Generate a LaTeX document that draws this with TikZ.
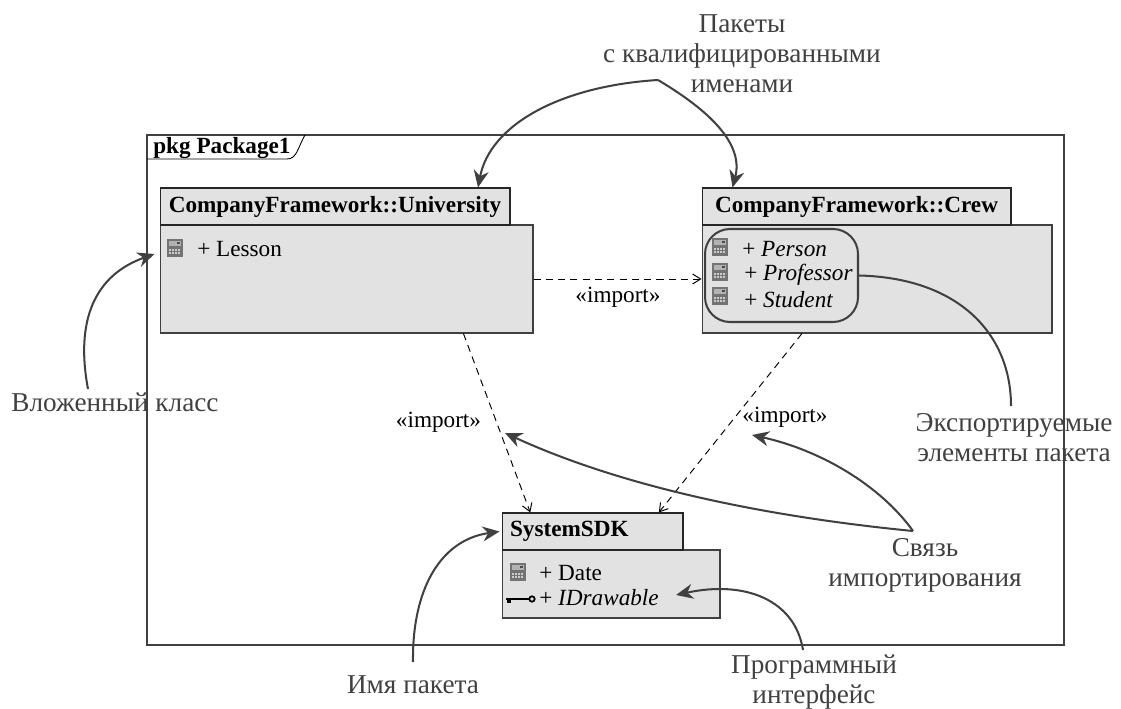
\documentclass[tikz,border=0pt]{standalone}
\usepackage{fontspec}
\setmainfont{Liberation Serif}
\usetikzlibrary{calc,positioning,arrows.meta}
\definecolor{boxfill}{HTML}{E2E2E2}
\definecolor{notecol}{HTML}{404040}
\tikzset{
    >={Straight Barb[length=1.6mm,width=2mm]},
    boxfont/.style={font=\fontsize{13.2}{15}\selectfont},
    tabbox/.style={draw=black!85,fill=boxfill,line width=.6pt,font=\fontsize{13.2}{15}\selectfont\bfseries,inner sep=0pt,align=left},
    bodybox/.style={draw=black!75,fill=boxfill,line width=.6pt,inner sep=0pt},
    importline/.style={draw=black,dashed,dash pattern=on 4pt off 3pt,line width=.55pt,->},
    importlabel/.style={boxfont,inner sep=0pt},
    noteline/.style={draw=notecol,line width=1.15pt,-{Stealth[length=3.4mm,width=3mm]}},
    noteplain/.style={draw=notecol,line width=1.15pt},
    notetext/.style={text=notecol,align=center,inner sep=0pt,font=\fontsize{15.5}{17}\selectfont},
    member/.style={boxfont,anchor=west,inner sep=0pt},
    calcicon/.pic={
        \fill[black!55] (-8,-9) rectangle (8,9);
        \fill[black!30] (-6,-7) rectangle (6,-2);
        \fill[black!70] (2,-6) rectangle (5,-4);
        \foreach \keyx in {-6,-3,0,3}
            \foreach \keyy in {1,4}
                \fill[black!20] (\keyx,\keyy) rectangle +(2,2);
    },
    keyicon/.pic={
        \draw[black,line width=1.1pt] (-13,0) -- (10,0);
        \draw[black,line width=1pt] (13,0) circle (2.7);
        \fill[black] (-12,0) rectangle (-8,4);
    }
}
\begin{document}
\begin{tikzpicture}[x=0.02cm,y=-0.02cm]
        \useasboundingbox (0,0) rectangle (1121,709);
        % package frame
        \node[draw=black!75,line width=.8pt,minimum width=18.34cm,minimum height=10.2cm,inner sep=0pt] (frame) at (605.5,390) {};
        \coordinate (frameTabA) at (305,135);
        \coordinate (frameTabB) at (147,159);
        \draw[black,line width=.5pt] (frameTabB) -- (287,159) .. controls (297,159) and (298,147) .. (frameTabA);
        \node[anchor=west,inner sep=0pt,font=\fontsize{13.2}{15}\selectfont\bfseries] (frameName) at (153,148) {pkg Package1};

        % packages
        \node[bodybox,minimum width=7.46cm,minimum height=2.16cm] (uniBody) at (346.5,279) {};
        \node[tabbox,minimum width=7cm,minimum height=.74cm] (uniTab) at (335,206.5) {CompanyFramework::University};
        \node[bodybox,minimum width=7cm,minimum height=2.16cm] (crewBody) at (877,279) {};
        \node[tabbox,minimum width=6.18cm,minimum height=.74cm] (crewTab) at (856.5,206.5) {CompanyFramework::Crew};
        \node[bodybox,minimum width=4.36cm,minimum height=1.36cm] (sdkBody) at (611,584) {};
        \node[tabbox,minimum width=3.62cm,minimum height=.74cm,text width=3.3cm] (sdkTab) at (592.5,531.5) {SystemSDK};

        % members
        \pic at (175,248.5) {calcicon};
        \node[member] (lesson) at (197,249) {+ Lesson};
        \pic at (719.5,247) {calcicon};
        \node[member] (person) at (742,249) {+ \textit{Person}};
        \pic at (719.5,272) {calcicon};
        \node[member] (professor) at (744,275) {+ \textit{Professor}};
        \pic at (719.5,296) {calcicon};
        \node[member] (student) at (744,300) {+ \textit{Student}};
        \pic at (518,572) {calcicon};
        \node[member] (date) at (539,573) {+ Date};
        \pic at (519,599) {keyicon};
        \node[member] (drawable) at (539,598) {+ \textit{IDrawable}};
        \node[draw=notecol,line width=1.15pt,rounded corners=.5cm,minimum width=3.06cm,minimum height=1.86cm,inner sep=0pt] (exported) at (781.5,275.5) {};

        % imports
        \draw[importline] (uniBody.east) -- (crewBody.west);
        \node[importlabel] (importA) at (618,297) {«import»};
        \draw[importline] (uniBody.-25.5) -- (sdkTab.163.3);
        \node[importlabel] (importB) at (438.5,422) {«import»};
        \draw[importline] (crewBody.216.1) -- (sdkTab.16);
        \node[importlabel] (importC) at (785,417) {«import»};

        % notes
        \node[notetext] (noteNames) at (742,54) {Пакеты\\с квалифицированными\\именами};
        \coordinate (forkNames) at (658,80);
        \draw[noteline] (forkNames) .. controls (560,86) and (490,125) .. ($(uniTab.north)+(143,0)$);
        \draw[noteline] (forkNames) .. controls (700,105) and (745,140) .. ($(crewTab.north west)+(31,0)$);
        \node[notetext] (noteNested) at (115,402) {Вложенный класс};
        \coordinate (startNested) at (88,389);
        \draw[noteline] (startNested) .. controls (75,320) and (95,275) .. ($(uniBody.west)+(-5,-25)$);
        \node[notetext] (noteExported) at (1014,438) {Экспортируемые\\элементы пакета};
        \coordinate (endExported) at (1011,406);
        \draw[noteplain] (exported.east) .. controls (960,278) and (1011,335) .. (endExported);
        \node[notetext] (noteImport) at (925,565) {Связь\\импортирования};
        \coordinate (forkImport) at (913,531);
        \draw[noteline] (forkImport) .. controls (800,520) and (640,495) .. (505,433);
        \draw[noteline] (forkImport) .. controls (880,485) and (820,450) .. (752,435);
        \node[notetext] (noteName) at (413,685) {Имя пакета};
        \coordinate (startName) at (413,662);
        \draw[noteline] (startName) .. controls (412,590) and (440,540) .. ($(sdkTab.west)+(-2,0)$);
        \node[notetext] (noteInterface) at (814,682) {Программный\\интерфейс};
        \coordinate (startInterface) at (803,650);
        \draw[noteline] (startInterface) .. controls (795,600) and (745,580) .. ($(drawable.east)+(17,-3)$);
    \end{tikzpicture}
\end{document}
